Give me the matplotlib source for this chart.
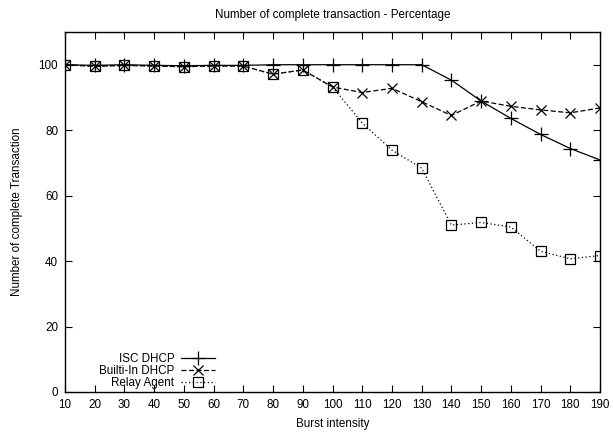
#!/usr/bin/env python3

"""
plot.py

Completed DHCP transactions (percent) against burst intensity
for three server setups, drawn in a gnuplot-like style.
"""

import matplotlib
matplotlib.use('Agg')
import matplotlib.pyplot as plt

burst = [10, 20, 30, 40, 50, 60, 70, 80, 90, 100,
         110, 120, 130, 140, 150, 160, 170, 180, 190]

isc_dhcp = [100, 99.8, 100, 99.8, 99.7, 99.8, 99.8, 100, 100, 100,
            100, 100, 100, 95.3, 88.9, 83.6, 78.7, 74.4, 70.9]
builtin_dhcp = [100, 99.5, 99.8, 99.6, 99.4, 99.6, 99.6, 97.1, 98.4, 93.2,
                91.5, 92.8, 88.7, 84.5, 88.9, 87.3, 86.2, 85.3, 86.8]
relay_agent = [100, 99.5, 99.8, 99.6, 99.4, 99.6, 99.6, 97.1, 98.4, 93.2,
               82.2, 73.9, 68.4, 51.0, 51.8, 50.4, 43.0, 40.7, 41.7]

FS = 8.4

plt.rcParams['font.family'] = ['Liberation Sans', 'DejaVu Sans']
plt.rcParams['font.size'] = FS

fig = plt.figure(figsize=(6.14, 4.38), dpi=100)
ax = fig.add_axes([65 / 614, 46 / 438, 535 / 614, 360 / 438])

ax.plot(burst, isc_dhcp, color='black', linestyle='-', linewidth=0.9,
        marker='+', markersize=9.5, markeredgewidth=0.9, label='ISC DHCP')
ax.plot(burst, builtin_dhcp, color='black', linestyle=(0, (4, 2)), linewidth=0.9,
        marker='x', markersize=7.5, markeredgewidth=0.9, label='Builti-In DHCP')
ax.plot(burst, relay_agent, color='black', linestyle=(0, (1, 2)), linewidth=0.9,
        marker='s', markersize=7.5, markeredgewidth=0.9, markerfacecolor='none',
        label='Relay Agent')

ax.set_xlim(10, 190)
ax.set_ylim(0, 110)
ax.set_xticks(burst)
ax.set_yticks(range(0, 101, 20))
ax.tick_params(direction='in', top=True, right=True, length=5, width=0.8,
               labelsize=FS, pad=5)
for spine in ax.spines.values():
    spine.set_linewidth(1.0)

ax.set_title('Number of complete transaction - Percentage', fontsize=FS, pad=10)
ax.set_xlabel('Burst intensity', fontsize=FS, labelpad=5)
ax.set_ylabel('Number of complete Transaction', fontsize=FS, labelpad=11)

# gnuplot-style key: labels right-aligned, samples on the right
leg = ax.legend(loc='lower right', bbox_to_anchor=(215 / 614, 49 / 438),
                bbox_transform=fig.transFigure, frameon=False,
                markerfirst=False, handlelength=2.9, handletextpad=0.6,
                labelspacing=0.0, fontsize=FS, borderaxespad=0, borderpad=0)
for text in leg.get_texts():
    text.set_horizontalalignment('right')
leg._legend_box.align = 'right'

fig.savefig('out.png', dpi=100)
